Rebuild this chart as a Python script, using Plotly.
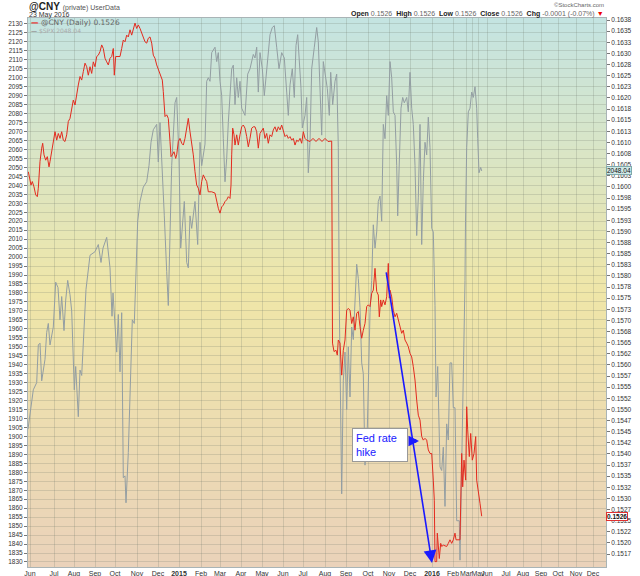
import plotly.graph_objects as go

# x axis is a session index (StockCharts style), 0 = early Jun 2014
month_pos = [0, 24, 44, 65, 85, 107, 128, 149, 171, 190, 211, 232, 253, 273, 295, 316,
             338, 359, 380, 402, 423, 436, 442, 448, 457, 476, 493, 511, 528, 546, 563]
month_labels = ['Jun', 'Jul', 'Aug', 'Sep', 'Oct', 'Nov', 'Dec', '<b>2015</b>', 'Feb', 'Mar',
                'Apr', 'May', 'Jun', 'Jul', 'Aug', 'Sep', 'Oct', 'Nov', 'Dec', '<b>2016</b>',
                'Feb', 'Mar', '', 'May', 'Jun', 'Jul', 'Aug', 'Sep', 'Oct', 'Nov', 'Dec']

# $SPX (left axis)
spx_idx = [-2, 0, 3.3, 6.7, 8.3, 10, 11.7, 15, 16.7, 18.3, 20, 23.3, 25.7, 28, 30, 31.7, 34, 35.7,
           37.7, 40, 41.7, 44.3, 45.7, 48.3, 50, 51.7, 53.3, 56, 60, 65, 68.3, 71, 73, 76.7, 80,
           82, 83, 86.7, 88.3, 90, 91.7, 93.3, 95, 96, 98.3, 101, 102.3, 104.3, 105.7, 107.7,
           110, 113.3, 116.7, 119, 121, 123.3, 126.7, 128.3, 130, 131.7, 134.3, 136.7, 138.3,
           141.7, 145, 146.7, 149, 150.7, 152.3, 154.3, 156.7, 158.3, 160, 161.7, 165, 167.7,
           170, 171.7, 175, 176.7, 178.3, 180, 181.7, 185, 186.7, 188.3, 190, 191.7, 193.3, 195,
           196.7, 198.3, 201.7, 203.3, 205, 206.7, 208.3, 210, 211.7, 215, 217.7, 220, 223.3,
           225, 226.7, 228.3, 230, 232.3, 234.3, 236.7, 240, 242.3, 244.3, 246.7, 249, 251.7,
           254.3, 256.7, 258.3, 260, 262.3, 264.3, 266, 267.7, 269, 271, 272.3, 275, 276.7,
           278.3, 280, 281.7, 284.3, 286.7, 288.3, 290, 291.7, 293.3, 295, 297.3, 299.3, 300.7,
           302.7, 305, 306.7, 308.3, 309.3, 311.7, 313.3, 315, 316.7, 318.3, 320, 321.7, 323.3,
           325, 326.7, 328.3, 330, 331.7, 333.3, 335, 337.3, 340, 341.7, 343.3, 345, 346.7,
           348.3, 350, 351.7, 353.3, 355, 356.7, 358.3, 360, 361.7, 363.3, 365, 366.7, 367.7,
           369.3, 371, 372.7, 374.3, 376.7, 378.3, 380, 381.7, 383.3, 385, 386.7, 388.3, 390,
           391.7, 393.3, 395, 396.7, 398.3, 400, 401.7, 403.3, 405, 406, 407.7, 410, 411.7,
           413.3, 415, 416.7, 418.3, 420, 421.7, 423.3, 425, 426.7, 429.3, 430, 431.7, 433.3,
           435, 435.5, 436.7, 438.3, 440, 441.7, 443.3, 445, 446.7, 447.7, 449, 450.7, 451.7]
spx_close = [1904, 1913, 1926, 1930, 1951, 1952, 1931, 1943, 1958, 1963, 1951, 1961, 1986, 1983,
             1965, 1978, 1959, 1976, 1987, 1979, 1970, 1926, 1939, 1911, 1937, 1934, 1955, 1982,
             2001, 2003, 2007, 1997, 2005, 2011, 1994, 1967, 1980, 1947, 1968, 1936, 1969, 1877,
             1878, 1863, 1891, 1943, 1965, 1963, 1987, 2020, 2031, 2039, 2042, 2051, 2064, 2071,
             2074, 2053, 2075, 2057, 2023, 1992, 1973, 2051, 2086, 2089, 2055, 2005, 2018, 2031,
             1997, 1994, 2023, 2016, 2031, 2007, 2064, 2051, 2063, 2098, 2100, 2098, 2114, 2117,
             2109, 2114, 2098, 2090, 2066, 2042, 2055, 2075, 2105, 2107, 2085, 2100, 2089, 2098,
             2083, 2079, 2102, 2105, 2113, 2111, 2117, 2092, 2114, 2105, 2090, 2103, 2124, 2128,
             2129, 2117, 2105, 2114, 2111, 2092, 2079, 2096, 2105, 2089, 2118, 2124, 2113, 2094,
             2072, 2079, 2089, 2047, 2064, 2105, 2117, 2128, 2120, 2096, 2068, 2109, 2102, 2094,
             2079, 2103, 2085, 2098, 2102, 2061, 1973, 1868, 1931, 1947, 1915, 1950, 1922, 1961,
             1954, 1980, 1996, 1988, 1972, 1941, 1935, 1884, 1904, 1969, 1987, 2018, 2005, 2014,
             2031, 2034, 2020, 2074, 2066, 2090, 2079, 2109, 2100, 2081, 2079, 2051, 2023, 2053,
             2083, 2089, 2086, 2089, 2081, 2103, 2083, 2074, 2051, 2012, 2033, 2074, 2007, 2042,
             2064, 2057, 2078, 2061, 2016, 2014, 1973, 1922, 1939, 1883, 1881, 1894, 1861, 1907,
             1898, 1941, 1941, 1916, 1916, 1853, 1853, 1831, 1880, 1926, 1987, 2020, 2061, 2081,
             2083, 2092, 2089, 2095, 2083, 2066, 2047, 2050, 2048.04]

# @CNY (right axis)
cny_idx = [-1.7, 0, 1, 2.3, 4, 5.7, 7.3, 8.3, 10, 11.7, 12.7, 14, 15.7, 17.3, 19, 20, 21.7, 23.3,
           25, 26.7, 28.3, 30, 31.7, 33.3, 35, 36.7, 38.3, 40, 41.7, 43.3, 45, 46.7, 48.3, 50,
           51.7, 53.3, 55, 56.7, 58.3, 60, 61.7, 63.3, 65, 66.7, 68.3, 70, 71.7, 73.3, 75, 76.7,
           78.3, 80, 81.7, 83.3, 84.3, 85.7, 88.3, 90, 91.7, 93.3, 95, 96.7, 98.3, 100, 101.7,
           103.3, 105, 106.7, 108.3, 110, 111.7, 113.3, 115, 116.7, 118.3, 120, 121.7, 123.3,
           125, 126.7, 128.3, 130, 131, 132.3, 133.3, 134.3, 135, 136.7, 138.3, 140, 141, 142.3,
           144, 145.7, 146.7, 148.3, 150, 151.7, 153.3, 155, 156.7, 158.3, 160, 161.7, 163.3,
           165, 166.7, 168.3, 170, 171.7, 173.3, 175, 176.7, 178.3, 181.7, 185, 186.7, 188.3,
           190, 191.7, 193.3, 195, 196.7, 198.3, 200, 201, 201.7, 202.7, 204, 205, 206.7, 208.3,
           210, 211.7, 213.3, 215, 216.7, 218.3, 220, 221.7, 223.3, 225, 226.7, 228.3, 230,
           231.7, 233.3, 235, 236.7, 238.3, 240, 241.7, 243.3, 245, 246.7, 248.3, 250, 251.7,
           253.3, 255, 256.7, 258.3, 260, 261.7, 263.3, 265, 266.7, 268.3, 270, 271.7, 273.3,
           275, 276.7, 280, 283, 286, 289, 292, 295, 298, 301.7, 302.5, 304, 306, 307.3, 308.3,
           310, 311.7, 313.3, 315, 316.7, 318.3, 320, 321.7, 323.3, 325, 326.7, 328.3, 330,
           331.7, 333.3, 335, 336.7, 338.3, 340, 341.7, 343.3, 345, 346.7, 348.3, 349.3, 350.7,
           351.7, 353.3, 355, 356.7, 358.3, 359.3, 360, 361.7, 363.3, 365, 366.7, 368.3, 370,
           371.7, 373.3, 375, 376.7, 378.3, 380, 381.7, 383.3, 385, 386.7, 388.3, 390, 391.7,
           393.3, 395, 396.7, 398.3, 400, 401.7, 403.3, 404.3, 405, 406.7, 407.3, 409.3, 410.7,
           411.7, 413.3, 416.7, 418.3, 420, 421.7, 423.3, 425, 426, 430, 431.7, 432.7, 434,
           435.7, 436.7, 437.7, 439.3, 440.7, 442.3, 444, 445.7, 446.7, 448.3, 450, 451.7]
cny_close = [0.16034, 0.16019, 0.16004, 0.16012, 0.16000, 0.15982, 0.15978, 0.15997, 0.16057,
             0.16087, 0.16098, 0.16072, 0.16060, 0.16068, 0.16045, 0.16057, 0.16079, 0.16109,
             0.16124, 0.16105, 0.16120, 0.16109, 0.16124, 0.16105, 0.16102, 0.16117, 0.16147,
             0.16154, 0.16177, 0.16195, 0.16184, 0.16210, 0.16229, 0.16248, 0.16240, 0.16259,
             0.16278, 0.16270, 0.16251, 0.16270, 0.16255, 0.16281, 0.16270, 0.16293, 0.16296,
             0.16304, 0.16319, 0.16311, 0.16289, 0.16281, 0.16274, 0.16289, 0.16293, 0.16311,
             0.16251, 0.16293, 0.16293, 0.16293, 0.16311, 0.16330, 0.16326, 0.16341, 0.16337,
             0.16353, 0.16341, 0.16353, 0.16368, 0.16356, 0.16364, 0.16356, 0.16345, 0.16334,
             0.16326, 0.16323, 0.16334, 0.16337, 0.16323, 0.16296, 0.16289, 0.16274, 0.16263,
             0.16255, 0.16248, 0.16240, 0.16214, 0.16169, 0.16158, 0.16162, 0.16154, 0.16102,
             0.16068, 0.16072, 0.16079, 0.16064, 0.16072, 0.16102, 0.16109, 0.16098, 0.16094,
             0.16109, 0.16139, 0.16154, 0.16124, 0.16102, 0.16072, 0.16034, 0.16004, 0.15997,
             0.15982, 0.16012, 0.16027, 0.16019, 0.16012, 0.15989, 0.15989, 0.15986, 0.15967,
             0.15952, 0.15941, 0.15955, 0.15959, 0.15967, 0.15971, 0.15978, 0.15974, 0.16004,
             0.16072, 0.16132, 0.16117, 0.16094, 0.16117, 0.16094, 0.16117, 0.16135, 0.16139,
             0.16132, 0.16113, 0.16090, 0.16109, 0.16132, 0.16135, 0.16135, 0.16124, 0.16087,
             0.16120, 0.16128, 0.16132, 0.16109, 0.16120, 0.16098, 0.16117, 0.16113, 0.16128,
             0.16135, 0.16124, 0.16135, 0.16128, 0.16139, 0.16128, 0.16113, 0.16117, 0.16109,
             0.16113, 0.16105, 0.16109, 0.16094, 0.16105, 0.16102, 0.16109, 0.16098, 0.16124,
             0.16109, 0.16105, 0.16102, 0.16109, 0.16102, 0.16109, 0.16102, 0.16109, 0.16102,
             0.16103, 0.15649, 0.15630, 0.15633, 0.15622, 0.15656, 0.15649, 0.15577, 0.15633,
             0.15656, 0.15723, 0.15727, 0.15723, 0.15693, 0.15708, 0.15678, 0.15716, 0.15720,
             0.15686, 0.15660, 0.15678, 0.15693, 0.15731, 0.15735, 0.15731, 0.15761, 0.15768,
             0.15817, 0.15765, 0.15757, 0.15708, 0.15746, 0.15731, 0.15746, 0.15735, 0.15753,
             0.15828, 0.15750, 0.15768, 0.15753, 0.15723, 0.15708, 0.15716, 0.15701, 0.15686,
             0.15671, 0.15678, 0.15656, 0.15649, 0.15641, 0.15626, 0.15618, 0.15596, 0.15566,
             0.15521, 0.15487, 0.15476, 0.15439, 0.15431, 0.15435, 0.15431, 0.15409, 0.15401,
             0.15401, 0.15341, 0.15296, 0.15158, 0.15158, 0.15222, 0.15165, 0.15199, 0.15192,
             0.15195, 0.15192, 0.15199, 0.15207, 0.15199, 0.15207, 0.15222, 0.15207, 0.15207,
             0.15401, 0.15326, 0.15386, 0.15341, 0.15506, 0.15454, 0.15394, 0.15446, 0.15386,
             0.15401, 0.15439, 0.15341, 0.15319, 0.15289, 0.15260]

spx_last = 2048.04
cny_last = 0.1526

spx_ticks = list(range(1830, 2131, 5))
cny_ticks = [0.15175 + 0.00025 * k for k in range(49)]
cny_ticktext = [f"{v:.4f}" for v in cny_ticks]

font = "Liberation Sans, Arial, sans-serif"

fig = go.Figure()
fig.add_trace(go.Scatter(x=spx_idx, y=spx_close, mode='lines', name='$SPX',
                         line=dict(color='#939ea3', width=1), yaxis='y'))
fig.add_trace(go.Scatter(x=cny_idx, y=cny_close, mode='lines', name='@CNY',
                         line=dict(color='#e32b1f', width=1), yaxis='y2'))

# vertical gradient background (teal -> pale yellow -> peach)
stops = [(0.0, (234, 210, 186)), (0.5, (239, 230, 168)), (1.0, (196, 228, 226))]
n = 90
for i in range(n):
    t = (i + 0.5) / n
    if t <= 0.5:
        a, b, f = stops[0][1], stops[1][1], t / 0.5
    else:
        a, b, f = stops[1][1], stops[2][1], (t - 0.5) / 0.5
    c = tuple(round(a[k] + (b[k] - a[k]) * f) for k in range(3))
    fig.add_shape(type='rect', xref='paper', yref='paper', x0=0, x1=1,
                  y0=i / n, y1=(i + 1) / n + 0.002, layer='below',
                  line_width=0, fillcolor=f'rgb{c}')

grid = 'rgba(110,120,105,0.22)'
fig.update_layout(
    width=640, height=576,
    margin=dict(l=28, r=34, t=18, b=9, autoexpand=False),
    paper_bgcolor='white', plot_bgcolor='rgba(0,0,0,0)',
    showlegend=False,
    font=dict(family=font, size=7, color='#333'),
    xaxis=dict(range=[-2, 576], tickvals=month_pos, ticktext=month_labels,
               tickangle=0, automargin=False,
               showgrid=True, gridcolor=grid, gridwidth=1, zeroline=False,
               ticks='', tickfont=dict(size=7, color='#333'),
               showline=True, linecolor='#a9b4b6', mirror=True),
    yaxis=dict(range=[1827.2, 2133.3], tickvals=spx_ticks, automargin=False,
               showgrid=True, gridcolor=grid, zeroline=False,
               ticks='outside', ticklen=3, tickcolor='#777',
               tickfont=dict(size=6.5, color='#333'),
               showline=True, linecolor='#a9b4b6', mirror=True),
    yaxis2=dict(range=[0.151459, 0.163795], overlaying='y', side='right', automargin=False,
                tickvals=cny_ticks, ticktext=cny_ticktext, showgrid=False,
                zeroline=False, ticks='outside', ticklen=3, tickcolor='#777',
                tickfont=dict(size=6.5, color='#333')),
)

ann = []
# header
ann.append(dict(xref='paper', yref='paper', x=-0.002, y=1.021, xanchor='left', yanchor='middle',
                text="<b>@CNY</b> <span style='font-size:7px;color:#555'>(private) UserData</span>",
                font=dict(size=10, color='#222', family=font), showarrow=False))
ann.append(dict(xref='paper', yref='paper', x=-0.002, y=1.006, xanchor='left', yanchor='middle',
                text='23 May 2016', font=dict(size=7, color='#333', family=font), showarrow=False))
ann.append(dict(xref='paper', yref='paper', x=1.0, y=1.024, xanchor='right', yanchor='middle',
                text='©StockCharts.com', font=dict(size=6, color='#666', family=font),
                showarrow=False))
ann.append(dict(xref='paper', yref='paper', x=1.0, y=1.008, xanchor='right', yanchor='middle',
                text="<b>Open</b> <span style='color:#666'>0.1526</span>  <b>High</b> "
                     "<span style='color:#666'>0.1526</span>  <b>Low</b> "
                     "<span style='color:#666'>0.1526</span>  <b>Close</b> "
                     "<span style='color:#666'>0.1526</span>  <b>Chg</b> "
                     "<span style='color:#666'>-0.0001 (-0.07%)</span> "
                     "<span style='color:#e00'>▼</span>",
                font=dict(size=7, color='#222', family=font), showarrow=False))
# in-plot legend
ann.append(dict(xref='paper', yref='paper', x=0.002, y=0.991, xanchor='left', yanchor='middle',
                text=f"<span style='color:#e00'><b>—</b></span> @CNY (Daily) {cny_last}",
                font=dict(size=7.5, color='#666', family='DejaVu Sans'), showarrow=False))
ann.append(dict(xref='paper', yref='paper', x=0.002, y=0.978, xanchor='left', yanchor='middle',
                text=f"<span style='color:#999'><b>—</b></span> $SPX {spx_last}",
                font=dict(size=6, color='#aaa', family='DejaVu Sans'), showarrow=False))
# last-value tags on the right
ann.append(dict(xref='paper', yref='y', x=1.0, y=spx_last, xanchor='left', yanchor='middle',
                text=f'{spx_last}', font=dict(size=6.5, color='#111', family=font),
                bgcolor='#cfe8e6', bordercolor='#7fa9ab', borderwidth=1, borderpad=0,
                showarrow=False))
ann.append(dict(xref='paper', yref='y2', x=1.0, y=cny_last, xanchor='left', yanchor='middle',
                text=f'<b>{cny_last:.4f}</b>', font=dict(size=6.5, color='#111', family=font),
                bgcolor='white', bordercolor='#e03030', borderwidth=1, borderpad=0,
                showarrow=False))
# Fed rate hike annotation
ann.append(dict(xref='x', yref='y', x=402, y=1829.4, ax=356, ay=1992.3, axref='x', ayref='y',
                text='', showarrow=True, arrowhead=2, arrowsize=1.6, arrowwidth=1.6,
                arrowcolor='#1a1aff'))
ann.append(dict(xref='x', yref='y', x=389, y=1897.4, ax=378, ay=1897.4, axref='x', ayref='y',
                text='', showarrow=True, arrowhead=2, arrowsize=0.6, arrowwidth=3.5,
                arrowcolor='#1a1aff'))
ann.append(dict(xref='x', yref='y', x=350, y=1895.2, xanchor='center', yanchor='middle',
                text='Fed rate<br>hike', align='left', showarrow=False,
                font=dict(size=11, color='#1a1aff', family=font),
                bgcolor='white', bordercolor='#999', borderwidth=1, borderpad=3,
                width=48))
fig.update_layout(annotations=ann)

# drop the default page margin so the 640x576 figure fills the window
fig.write_html("out.html", config={'displayModeBar': False},
               post_script="document.body.style.margin='0';")
